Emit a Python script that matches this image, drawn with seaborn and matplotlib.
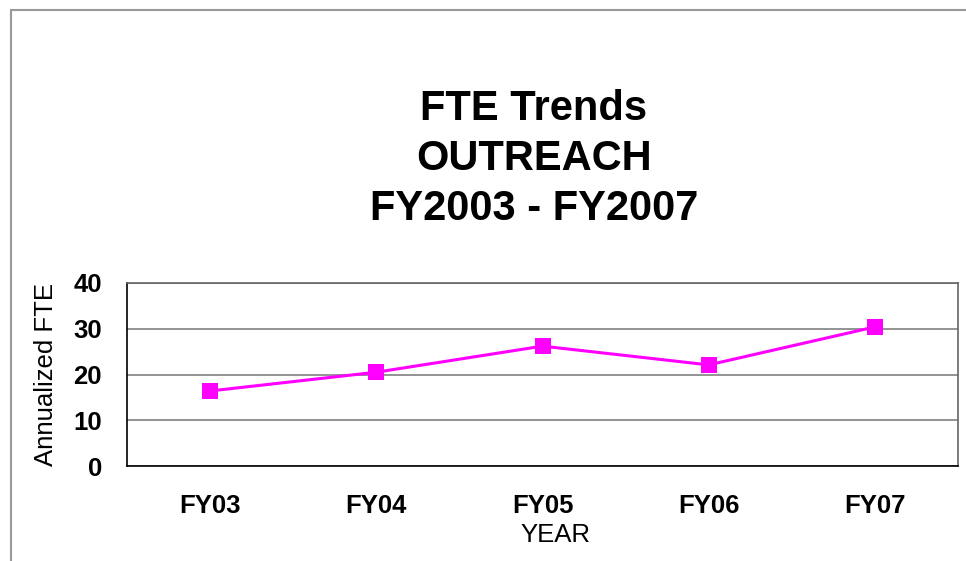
import matplotlib
matplotlib.use("Agg")
import matplotlib.pyplot as plt
import seaborn as sns
import pandas as pd
from matplotlib.patches import Rectangle

years = ["FY03", "FY04", "FY05", "FY06", "FY07"]
fte = [16.4, 20.5, 26.2, 22.1, 30.4]
yticks = [0, 10, 20, 30, 40]
title_lines = ["FTE Trends", "OUTREACH", "FY2003 - FY2007"]

sns.set_style("white")
plt.rcParams["font.family"] = ["Liberation Sans", "DejaVu Sans"]
plt.rcParams["text.color"] = "black"
plt.rcParams["axes.labelcolor"] = "black"
plt.rcParams["xtick.color"] = "black"
plt.rcParams["ytick.color"] = "black"

W, H = 966, 561
fig = plt.figure(figsize=(W / 100, H / 100), dpi=100)
fig.patch.set_facecolor("white")

# outer frame
fig.patches.append(Rectangle((11 / W, -0.1), 1.2, 1 - 10 / H + 0.1, transform=fig.transFigure,
                             fill=False, edgecolor="#999999", linewidth=1.5, zorder=0))

ax = fig.add_axes([127 / W, 1 - 466 / H, (958 - 127) / W, (466 - 283) / H])
df = pd.DataFrame({"year": years, "fte": fte})
sns.lineplot(data=df, x="year", y="fte", ax=ax, color="#FF00FF", linewidth=2.2,
             marker="s", markersize=11, markeredgewidth=0, sort=False)

ax.set_xlim(-0.5, len(years) - 0.5)
ax.set_ylim(0, 40)
ax.set_yticks(yticks)
ax.set_yticklabels([str(v) for v in yticks], fontsize=18.5, fontweight="bold")
ax.set_xticks(range(len(years)))
ax.set_xticklabels(years, fontsize=18.5, fontweight="bold")
ax.tick_params(axis="y", length=0, pad=18)
ax.tick_params(axis="x", length=0, pad=20)
ax.yaxis.grid(True, color="#808080", linewidth=1.2)
ax.xaxis.grid(False)
for s in ["left", "bottom"]:
    ax.spines[s].set_color("black")
    ax.spines[s].set_linewidth(1.2)
for s in ["top", "right"]:
    ax.spines[s].set_color("#666666")
    ax.spines[s].set_linewidth(1.2)

ax.set_xlabel("YEAR", fontsize=18.5)
ax.xaxis.set_label_coords((555 - 127) / (958 - 127), -(542 - 466) / (466 - 283), transform=ax.transAxes)
ax.xaxis.label.set_va("baseline")
ax.set_ylabel("Annualized FTE", fontsize=18.5)
ax.yaxis.set_label_coords(-(127 - 58) / (958 - 127), 0.5)

for line, base in zip(title_lines, [120, 170, 220]):
    fig.text(534 / W, 1 - base / H, line, ha="center", va="baseline",
             fontsize=30, fontweight="bold")

fig.savefig("out.png", dpi=100, facecolor="white")
